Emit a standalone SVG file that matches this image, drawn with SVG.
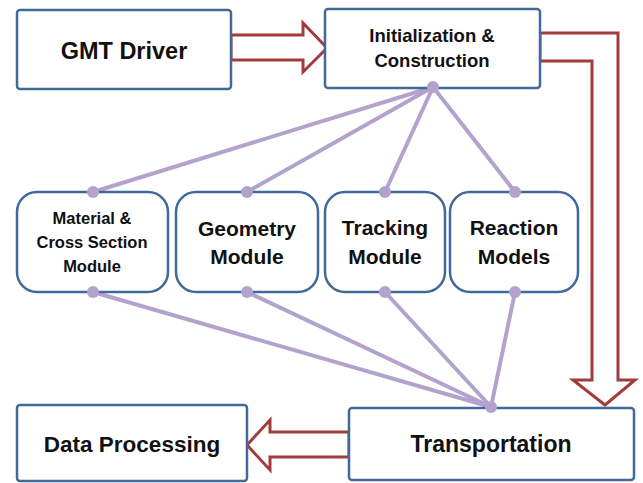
<svg xmlns="http://www.w3.org/2000/svg" width="643" height="483" viewBox="0 0 643 483">
<style>
.box{fill:#fff;stroke:#41699A;stroke-width:2.5}
.arr{fill:#fff;stroke:#A33B3B;stroke-width:3;stroke-linejoin:miter}
.ln{stroke:#B3A3CC;stroke-width:4;stroke-linecap:round;fill:none}
.dot{fill:#B3A3CC}
text{font-family:"Liberation Sans",Arial,sans-serif;font-weight:bold;fill:#111;text-anchor:middle}
</style>
<rect width="643" height="483" fill="#fff"/>
<g id="connectors">
<polygon class="arr" points="231,35 303,35 303,23 327,48 303,72 303,60 231,60"/>
<polygon class="arr" points="540,33 618,33 618,380 635,380 605,405 573,380 592,380 592,61 540,61"/>
<polygon class="arr" points="349,432 270,432 270,420 247,445 270,470 270,457 349,457"/>
<line class="ln" x1="433" y1="87" x2="93" y2="192"/>
<line class="ln" x1="433" y1="87" x2="247" y2="192"/>
<line class="ln" x1="433" y1="87" x2="385" y2="192"/>
<line class="ln" x1="433" y1="87" x2="515" y2="192"/>
<line class="ln" x1="93" y1="292" x2="491" y2="407"/>
<line class="ln" x1="247" y1="292" x2="491" y2="407"/>
<line class="ln" x1="385" y1="292" x2="491" y2="407"/>
<line class="ln" x1="515" y1="292" x2="491" y2="407"/>
</g>
<g id="gmt-driver">
<rect class="box" x="17" y="10" width="214" height="79" rx="3"/>
<text x="124" y="59" font-size="23.5">GMT Driver</text>
</g>
<g id="initialization">
<rect class="box" x="325" y="9" width="215" height="79" rx="3"/>
<text x="432" y="42" font-size="18.5">Initialization &amp;</text>
<text x="432" y="67" font-size="18.5">Construction</text>
</g>
<g id="material">
<rect class="box" x="17" y="192" width="151" height="100" rx="20"/>
<text x="92" y="224" font-size="16.5">Material &amp;</text>
<text x="92" y="248" font-size="16.5">Cross Section</text>
<text x="92" y="272" font-size="16.5">Module</text>
</g>
<g id="geometry">
<rect class="box" x="176" y="192" width="142" height="100" rx="20"/>
<text x="247" y="236" font-size="21">Geometry</text>
<text x="247" y="264" font-size="21">Module</text>
</g>
<g id="tracking">
<rect class="box" x="325" y="192" width="120" height="100" rx="20"/>
<text x="385" y="235" font-size="21">Tracking</text>
<text x="385" y="264" font-size="21">Module</text>
</g>
<g id="reaction">
<rect class="box" x="450" y="192" width="128" height="100" rx="20"/>
<text x="514" y="235" font-size="21">Reaction</text>
<text x="514" y="264" font-size="21">Models</text>
</g>
<g id="transportation">
<rect class="box" x="349" y="408" width="285" height="72" rx="3"/>
<text x="491" y="452" font-size="23">Transportation</text>
</g>
<g id="data-processing">
<rect class="box" x="17" y="405" width="230" height="76" rx="3"/>
<text x="132" y="452" font-size="22.5">Data Processing</text>
</g>
<g id="dots">
<circle class="dot" cx="433" cy="87" r="6"/>
<circle class="dot" cx="93" cy="192" r="6"/>
<circle class="dot" cx="247" cy="192" r="6"/>
<circle class="dot" cx="385" cy="192" r="6"/>
<circle class="dot" cx="515" cy="192" r="6"/>
<circle class="dot" cx="93" cy="292" r="6"/>
<circle class="dot" cx="247" cy="292" r="6"/>
<circle class="dot" cx="385" cy="292" r="6"/>
<circle class="dot" cx="515" cy="292" r="6"/>
<circle class="dot" cx="491" cy="407" r="6"/>
</g>
</svg>
